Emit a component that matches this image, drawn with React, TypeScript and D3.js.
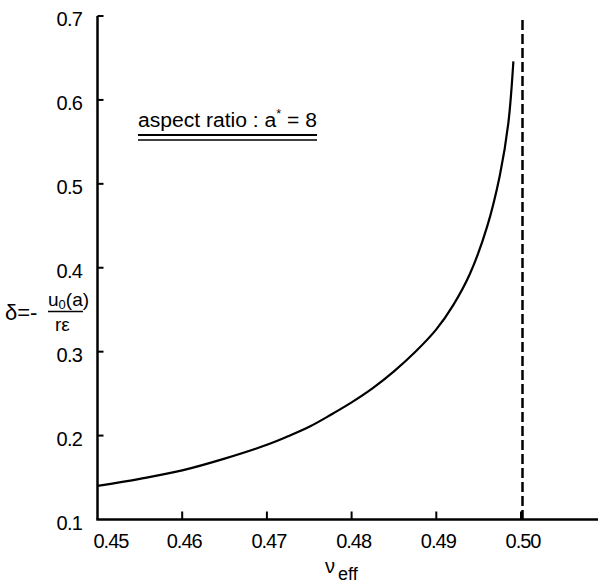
import React from "react";
import * as d3 from "d3";

const nuEff = [0.450, 0.455, 0.460, 0.465, 0.470, 0.4725, 0.475, 0.4775, 0.480, 0.4825, 0.485, 0.4875, 0.490, 0.4920, 0.4940, 0.4960, 0.4975, 0.4985, 0.4991];
const delta = [0.140, 0.1485, 0.1585, 0.1725, 0.189, 0.1992, 0.2105, 0.2245, 0.2395, 0.2565, 0.2765, 0.2995, 0.3265, 0.3555, 0.3935, 0.449, 0.510, 0.572, 0.646];
const xTicks = [0.45, 0.46, 0.47, 0.48, 0.49, 0.50];
const xTickLabels = ["0.45", "0.46", "0.47", "0.48", "0.49", "0.50"];
const yTicks = [0.1, 0.2, 0.3, 0.4, 0.5, 0.6, 0.7];
const yTickLabels = ["0.1", "0.2", "0.3", "0.4", "0.5", "0.6", "0.7"];
const asymptote = 0.5;

const W = 601;
const H = 586;
const FONT = "'Liberation Sans', Arial, sans-serif";

export default function App() {
  const x = d3.scaleLinear().domain([0.45, 0.50]).range([97.5, 521]);
  const y = d3.scaleLinear().domain([0.1, 0.7]).range([519.5, 16]);
  const xEnd = 598;
  const pts: [number, number][] = nuEff.map((v, i) => [v, delta[i]]);
  const line = d3
    .line<[number, number]>()
    .x((d) => x(d[0]))
    .y((d) => y(d[1]))
    .curve(d3.curveCatmullRom.alpha(0.5));

  return (
    <svg
      width={W}
      height={H}
      style={{ position: "absolute", left: 0, top: 0, background: "#fff" }}
      fontFamily={FONT}
    >
      <rect x={0} y={0} width={W} height={H} fill="#fff" />
      {/* axes */}
      <line x1={x(0.45)} x2={x(0.45)} y1={y(0.7)} y2={y(0.1)} stroke="#000" strokeWidth={2.5} />
      <line x1={x(0.45) - 1.2} x2={xEnd} y1={y(0.1)} y2={y(0.1)} stroke="#000" strokeWidth={2.5} />
      {/* y ticks */}
      {yTicks.map((t, i) => (
        <g key={"yt" + i}>
          {i > 0 && (
            <line x1={x(0.45)} x2={x(0.45) + 6} y1={y(t)} y2={y(t)} stroke="#000" strokeWidth={2} />
          )}
          <text
            x={82}
            y={y(t) + 3}
            textAnchor="end"
            dominantBaseline="central"
            fontSize={20}
            letterSpacing={-0.8}
            fill="#000"
          >
            {yTickLabels[i]}
          </text>
        </g>
      ))}
      {/* x ticks */}
      {xTicks.map((t, i) => (
        <g key={"xt" + i}>
          {i > 0 && (
            <line x1={x(t)} x2={x(t)} y1={y(0.1)} y2={y(0.1) - 8} stroke="#000" strokeWidth={2} />
          )}
          <text
            x={i === 0 ? x(t) - 4 : x(t) + 2}
            y={y(0.1) + 28}
            textAnchor={i === 0 ? "start" : "middle"}
            fontSize={20}
            letterSpacing={-1}
            fill="#000"
          >
            {xTickLabels[i]}
          </text>
        </g>
      ))}
      {/* asymptote */}
      <line
        x1={x(asymptote) + 1.5}
        x2={x(asymptote) + 1.5}
        y1={20}
        y2={y(0.1)}
        stroke="#000"
        strokeWidth={2.5}
        strokeDasharray="10,4"
      />
      {/* curve */}
      <path d={line(pts) || ""} fill="none" stroke="#000" strokeWidth={2.2} />
      {/* annotation */}
      <text x={138} y={127} fontSize={20} fill="#000" textLength={179} lengthAdjust="spacingAndGlyphs">
        aspect ratio : a<tspan dy={-9} fontSize={12}>*</tspan>
        <tspan dy={9}> = 8</tspan>
      </text>
      <line x1={138} x2={317} y1={135} y2={135} stroke="#000" strokeWidth={2} />
      <line x1={138} x2={317} y1={140} y2={140} stroke="#000" strokeWidth={1.5} />
      {/* x label */}
      <text x={325} y={573} fontSize={20} fill="#000">ν</text>
      <text x={338} y={580} fontSize={18} fill="#000">eff</text>
      {/* y label */}
      <text x={5} y={320} fontSize={22} fill="#000">δ=-</text>
      <text x={48} y={306} fontSize={19} fill="#000">
        u<tspan fontSize={13} dy={3}>0</tspan><tspan dy={-3}>(a)</tspan>
      </text>
      <line x1={48} x2={83} y1={311.5} y2={311.5} stroke="#000" strokeWidth={1.5} />
      <text x={55} y={331} fontSize={19} fill="#000">rε</text>
    </svg>
  );
}
